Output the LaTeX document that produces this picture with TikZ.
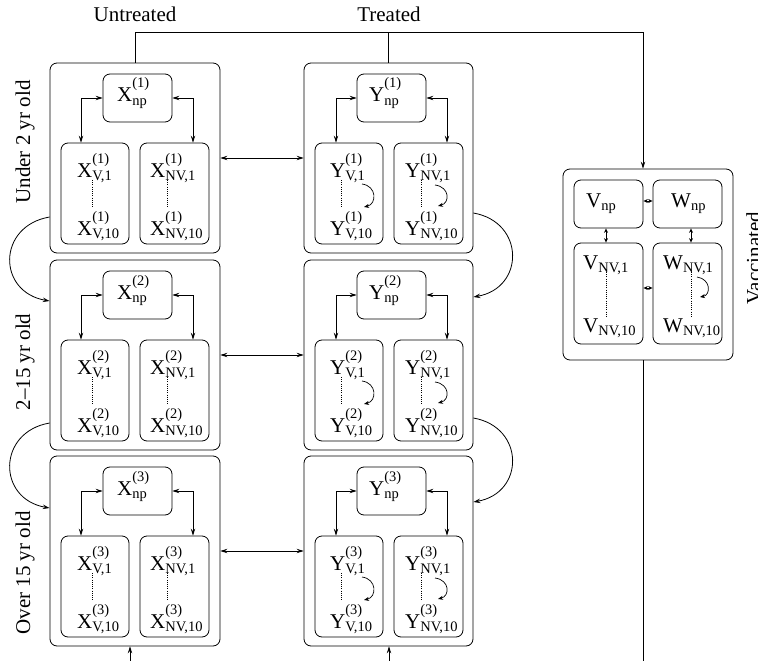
\documentclass[tikz,border=0pt]{standalone}
\usepackage{fontspec}
\setmainfont{Liberation Serif}
\usetikzlibrary{arrows.meta}
\newcommand{\subsz}{\fontsize{14.5}{15}\selectfont}
\newcommand{\mainsz}{\fontsize{21}{24}\selectfont}
\newcommand{\xlab}[3]{#1\makebox[0pt][l]{\raisebox{14pt}{\subsz #2}}\raisebox{-3.5pt}{\subsz #3}}
\newcommand{\xlabn}[2]{#1\raisebox{-3.5pt}{\subsz #2}}
\begin{document}
\begin{tikzpicture}[x=1pt,y=-1pt,
  bx/.style={draw, rounded corners=7pt, line width=0.8pt, inner sep=0pt},
  ln/.style={line width=0.8pt},
  ar/.style={ln, -{Stealth[length=7pt,width=4.5pt,inset=2.5pt]}},
  dar/.style={ln, {Stealth[length=7pt,width=4.5pt,inset=2.5pt]}-{Stealth[length=7pt,width=4.5pt,inset=2.5pt]}},
  sdar/.style={ln, {Stealth[length=4.5pt,width=4pt,inset=1.5pt]}-{Stealth[length=4.5pt,width=4pt,inset=1.5pt]}},
  selfar/.style={line width=0.7pt, -{Stealth[length=5pt,width=4pt,inset=1.5pt]}},
  tx/.style={inner sep=0pt, font=\mainsz},
  dots/.style={line width=0.6pt, dash pattern=on 1pt off 1.2pt}]

\useasboundingbox (0,0) rectangle (758,661);

% column headings
\node[tx, anchor=base] (hu) at (135,22) {Untreated};
\node[tx, anchor=base] (ht) at (389,22) {Treated};

% age labels
\node[tx, rotate=90] (a1) at (25,142) {Under 2 yr old};
\node[tx, rotate=90] (a2) at (25,362) {2--15 yr old};
\node[tx, rotate=90] (a3) at (25,573) {Over 15 yr old};
\node[tx, rotate=90, anchor=north] (av) at (746,258) {Vaccinated};

\foreach \r/\dy in {1/0,2/197,3/393} {
  % untreated
  \node[bx, minimum width=170pt, minimum height=190pt] (U\r) at (135,158+\dy) {};
  \node[bx, minimum width=69pt, minimum height=48pt] (Xnp\r) at (137.5,98+\dy) {};
  \node[bx, minimum width=68pt, minimum height=101pt] (XV\r) at (95,193.5+\dy) {};
  \node[bx, minimum width=69pt, minimum height=101pt] (XNV\r) at (174.5,193.5+\dy) {};
  \node[tx, anchor=base west] (xnpt\r) at (117,102+\dy) {\xlab{X}{(\r)}{np}};
  \node[tx, anchor=base west] (xv1\r) at (77,177+\dy) {\xlab{X}{(\r)}{V,1}};
  \node[tx, anchor=base west] (xv10\r) at (77,235+\dy) {\xlab{X}{(\r)}{V,10}};
  \node[tx, anchor=base west] (xnv1\r) at (150,177+\dy) {\xlab{X}{(\r)}{NV,1}};
  \node[tx, anchor=base west] (xnv10\r) at (150,235+\dy) {\xlab{X}{(\r)}{NV,10}};
  \draw[dots] (92,180+\dy) -- (92,208+\dy);
  \draw[dots] (167,180+\dy) -- (167,208+\dy);
  \draw[dar] (Xnp\r.west) -| ([xshift=-14pt]XV\r.north);
  \draw[dar] (Xnp\r.east) -| ([xshift=18.5pt]XNV\r.north);
  % treated
  \node[bx, minimum width=169pt, minimum height=190pt] (T\r) at (388.5,158+\dy) {};
  \node[bx, minimum width=69pt, minimum height=48pt] (Ynp\r) at (391.5,98+\dy) {};
  \node[bx, minimum width=68pt, minimum height=101pt] (YV\r) at (349,193.5+\dy) {};
  \node[bx, minimum width=69pt, minimum height=101pt] (YNV\r) at (428.5,193.5+\dy) {};
  \node[tx, anchor=base west] (ynpt\r) at (369,102+\dy) {\xlab{Y}{(\r)}{np}};
  \node[tx, anchor=base west] (yv1\r) at (330,177+\dy) {\xlab{Y}{(\r)}{V,1}};
  \node[tx, anchor=base west] (yv10\r) at (330,235+\dy) {\xlab{Y}{(\r)}{V,10}};
  \node[tx, anchor=base west] (ynv1\r) at (405,177+\dy) {\xlab{Y}{(\r)}{NV,1}};
  \node[tx, anchor=base west] (ynv10\r) at (405,235+\dy) {\xlab{Y}{(\r)}{NV,10}};
  \draw[dots] (341.7,180+\dy) -- (341.7,207+\dy);
  \draw[dots] (421,180+\dy) -- (421,207+\dy);
  \draw[selfar] (362,184+\dy) .. controls (377,186+\dy) and (377,204+\dy) .. (364,207+\dy);
  \draw[selfar] (435,185+\dy) .. controls (450,187+\dy) and (450,203+\dy) .. (438,206+\dy);
  \draw[dar] (Ynp\r.west) -| ([xshift=-13pt]YV\r.north);
  \draw[dar] (Ynp\r.east) -| ([xshift=18.5pt]YNV\r.north);
  % untreated <-> treated
  \draw[dar] (U\r.east) -- (T\r.west);
}

% ageing curves
\draw[ar] ([yshift=-59pt]U1.west) .. controls (-3,226) and (-3,292) .. ([yshift=54pt]U2.west);
\draw[ar] ([yshift=-68pt]U2.west) .. controls (-3,432) and (-3,499) .. ([yshift=43pt]U3.west);
\draw[ar] ([yshift=-55pt]T1.east) .. controls (525,222) and (525,288) .. ([yshift=58pt]T2.east);
\draw[ar] ([yshift=-63pt]T2.east) .. controls (525,427) and (525,493) .. ([yshift=49pt]T3.east);

% vaccinated
\node[bx, minimum width=170pt, minimum height=191pt] (Vb) at (648,264.5) {};
\node[bx, minimum width=69pt, minimum height=48pt] (Vnp) at (608.5,204) {};
\node[bx, minimum width=69pt, minimum height=48pt] (Wnp) at (687.5,204) {};
\node[bx, minimum width=69pt, minimum height=101pt] (VNV) at (608.5,293.5) {};
\node[bx, minimum width=69pt, minimum height=101pt] (WNV) at (687.5,293.5) {};
\node[tx, anchor=base west] (vnpt) at (586,207) {\xlabn{V}{np}};
\node[tx, anchor=base west] (wnpt) at (671,207) {\xlabn{W}{np}};
\node[tx, anchor=base west] (vnv1) at (583,269) {\xlabn{V}{NV,1}};
\node[tx, anchor=base west] (vnv10) at (583,332) {\xlabn{V}{NV,10}};
\node[tx, anchor=base west] (wnv1) at (663,269) {\xlabn{W}{NV,1}};
\node[tx, anchor=base west] (wnv10) at (663,332) {\xlabn{W}{NV,10}};
\draw[dots] (606,272) -- (606,317);
\draw[dots] (691,272) -- (691,317);
\draw[selfar] (697,277) .. controls (711,279) and (711,295) .. (700,297);
\draw[sdar] ([yshift=3pt]Vnp.east) -- ([yshift=3pt]Wnp.west);
\draw[sdar] ([xshift=-2.5pt]Vnp.south) -- ([xshift=-2.5pt]VNV.north);
\draw[sdar] ([xshift=3.5pt]Wnp.south) -- ([xshift=3.5pt]WNV.north);
\draw[sdar] ([yshift=5.5pt]VNV.east) -- ([yshift=5.5pt]WNV.west);

% top distribution line
\coordinate (tl) at (135,32);
\coordinate (tr) at (643,32);
\draw[ar] (U1.north) -- (tl) -- (tr) -- ([xshift=-5pt]Vb.north);
\draw[ln] (T1.north) -- (T1.north |- tl);

% bottom lines
\coordinate (vbot) at (643,661);
\draw[ln] ([xshift=-5pt]Vb.south) -- (vbot);
\coordinate (ubot) at (130,661);
\coordinate (tbot) at (389,661);
\draw[ar] (ubot) -- (ubot |- U3.south);
\draw[ar] (tbot) -- (tbot |- T3.south);
\end{tikzpicture}
\end{document}
